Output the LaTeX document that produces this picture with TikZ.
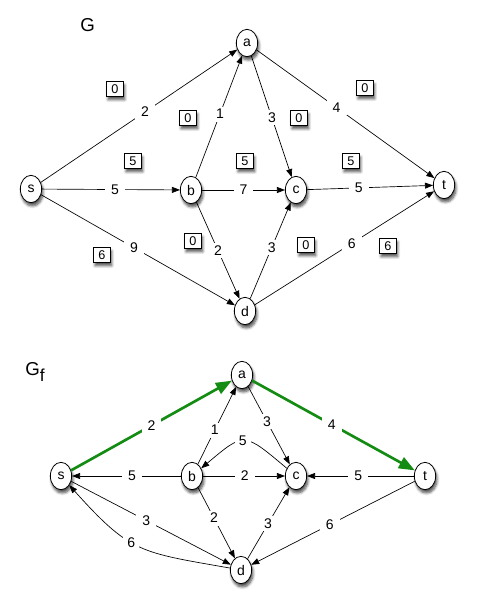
\documentclass[tikz,border=0pt]{standalone}
\usepackage{fontspec}
\setmainfont{Liberation Sans}
\usetikzlibrary{arrows.meta,shapes.geometric,shadows.blur}
\definecolor{gpath}{RGB}{20,140,20}
\begin{document}
\begin{tikzpicture}[x=0.75pt,y=0.75pt,
  myshadow/.style={blur shadow={shadow xshift=1pt,shadow yshift=-2.5pt,shadow blur steps=6,shadow blur radius=2pt,shadow opacity=70}},
  vtx/.style={draw,ellipse,fill=white,minimum width=16pt,minimum height=20.5pt,inner sep=0pt,
    line width=0.6pt,font=\fontsize{10.5}{11}\selectfont,myshadow},
  flowbox/.style={draw,fill=white,minimum width=12.5pt,minimum height=11pt,inner sep=0pt,
    line width=0.6pt,font=\fontsize{9.5}{10}\selectfont,myshadow},
  lbl/.style={fill=white,inner xsep=4.5pt,inner ysep=2pt,font=\fontsize{10.5}{11}\selectfont},
  arr/.style={-{Triangle[length=6pt,width=4.5pt]},line width=0.5pt},
  garr/.style={-{Triangle[length=12pt,width=9pt]},line width=2pt,draw=gpath},
  ttl/.style={inner sep=0pt,anchor=base west,font=\fontsize{14}{16}\selectfont}
]
\path[use as bounding box] (0,0) rectangle (476,-607);

% ---------- G ----------
\node[ttl] (gtitle) at (80,-31) {G};
\node[vtx] (s) at (31,-189) {s};
\node[vtx] (a) at (247,-43) {a};
\node[vtx] (b) at (191,-190) {b};
\node[vtx] (c) at (296,-190) {c};
\node[vtx] (t) at (444,-185) {t};
\node[vtx] (d) at (245,-311) {d};

\draw[arr] (s) -- node[lbl,pos=.53]{2} (a);
\draw[arr] (a) -- node[lbl,pos=.45]{4} (t);
\draw[arr] (b) -- node[lbl,pos=.52]{1} (a);
\draw[arr] (a) -- node[lbl,pos=.51]{3} (c);
\draw[arr] (s) -- node[lbl,pos=.53]{5} (b);
\draw[arr] (b) -- node[lbl,pos=.5]{7} (c);
\draw[arr] (c) -- node[lbl,pos=.41]{5} (t);
\draw[arr] (s) -- node[lbl,pos=.48]{9} (d);
\draw[arr] (b) -- node[lbl,pos=.5]{2} (d);
\draw[arr] (d) -- node[lbl,pos=.53]{3} (c);
\draw[arr] (d) -- node[lbl,pos=.54]{6} (t);

\node[flowbox] (f1) at (115,-89) {0};
\node[flowbox] (f2) at (188,-118) {0};
\node[flowbox] (f3) at (299,-118) {0};
\node[flowbox] (f4) at (365,-88) {0};
\node[flowbox] (f5) at (133,-161) {5};
\node[flowbox] (f6) at (245,-161) {5};
\node[flowbox] (f7) at (351,-161) {5};
\node[flowbox] (f8) at (193,-241) {0};
\node[flowbox] (f9) at (306,-245) {0};
\node[flowbox] (f10) at (102,-255) {6};
\node[flowbox] (f11) at (388,-246) {6};

% ---------- G_f ----------
\node[ttl] (gftitle) at (25,-375) {G\raisebox{-4.5pt}{\fontsize{13}{14}\selectfont f}};
\node[vtx] (s2) at (61,-476) {s};
\node[vtx] (a2) at (242,-375) {a};
\node[vtx] (b2) at (192,-476) {b};
\node[vtx] (c2) at (296,-476) {c};
\node[vtx] (t2) at (425,-476) {t};
\node[vtx] (d2) at (241,-570) {d};

\draw[garr] (s2) -- node[lbl,pos=.5]{2} (a2);
\draw[garr] (a2) -- node[lbl,pos=.49]{4} (t2);
\draw[arr] (b2) -- node[lbl,pos=.44]{1} (a2);
\draw[arr] (a2) -- node[lbl,pos=.45]{3} (c2);
\draw[arr] (c2) to[out=140,in=40,looseness=1.7] node[lbl,pos=.52,inner xsep=3pt]{5} (b2);
\draw[arr] (b2) -- node[lbl,pos=.45]{5} (s2);
\draw[arr] (b2) -- node[lbl,pos=.51]{2} (c2);
\draw[arr] (t2) -- node[lbl,pos=.52]{5} (c2);
\draw[arr] (b2) -- node[lbl,pos=.43]{2} (d2);
\draw[arr] (s2) -- node[lbl,pos=.47]{3} (d2);
\draw[arr] (d2) -- node[lbl,pos=.49]{3} (c2);
\draw[arr] (t2) -- node[lbl,pos=.52]{6} (d2);
\draw[arr] (d2) to[out=170,in=-48,looseness=1.3] node[lbl,pos=.56,inner xsep=3pt]{6} (s2);
\end{tikzpicture}
\end{document}
